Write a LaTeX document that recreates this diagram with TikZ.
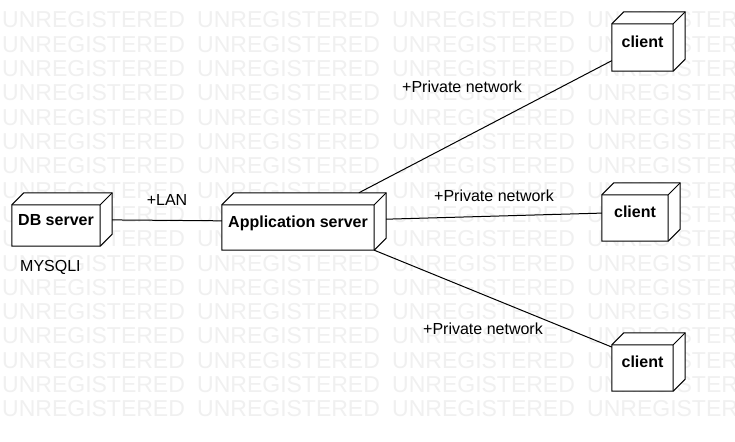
\documentclass[tikz,border=0pt]{standalone}
\usepackage{fontspec}
\setmainfont{Liberation Sans}
\usepackage{tikz}
\usetikzlibrary{positioning,calc}

\begin{document}
\begin{tikzpicture}[x=1pt, y=-1pt,
    boxline/.style={draw=black, line width=1pt},
    deploy/.style={rectangle, inner sep=0pt,
        font=\fontsize{16}{19}\selectfont\bfseries,
        text height=11.5pt, text depth=0pt,
        execute at end node={\hspace*{12pt}},
        append after command={\pgfextra{
            \draw[boxline, fill=white] (\tikzlastnode.south west)
                -- ([yshift=-12pt]\tikzlastnode.north west)
                -- ([xshift=12pt]\tikzlastnode.north west)
                -- (\tikzlastnode.north east)
                -- ([yshift=12pt]\tikzlastnode.south east)
                -- ([xshift=-12pt]\tikzlastnode.south east) -- cycle;
            \draw[boxline] ([yshift=-12pt]\tikzlastnode.north west)
                -- ([shift={(-12pt,-12pt)}]\tikzlastnode.north east)
                -- (\tikzlastnode.north east)
                ([shift={(-12pt,-12pt)}]\tikzlastnode.north east)
                -- ([xshift=-12pt]\tikzlastnode.south east);
        }}},
    link/.style={draw=black, line width=1pt},
    lbl/.style={font=\fontsize{16}{19}\selectfont, inner sep=0pt},
    watermark/.style={font=\fontsize{23}{26}\selectfont, text=black!6,
        inner sep=0pt, anchor=base west}]

    \fill[white] (0,0) rectangle (735,441);
    \useasboundingbox (0,0) rectangle (735,441);

    % watermark
    \begin{scope}
        \clip (0,0) rectangle (735,441);
        \foreach \r in {0,...,16}
            \foreach \c in {0,...,3}
                \node[watermark] (wm-\r-\c) at (2+195*\c, 28+24.3*\r) {UNREGISTERED};
    \end{scope}

    % Servers
    \node[deploy, minimum width=100, minimum height=53] (db) at (62,219.5) {DB server};
    \node[deploy, minimum width=164, minimum height=57] (app) at (304,221.5) {Application server};
    \node[lbl, anchor=base west] (mysql) at (20,271) {MYSQLI};

    % Clients
    \node[deploy, minimum width=73, minimum height=59] (client1) at (648.5,41.5) {client};
    \node[deploy, minimum width=78, minimum height=58] (client2) at (641,212) {client};
    \node[deploy, minimum width=73, minimum height=58] (client3) at (648.5,362) {client};

    % Links
    \draw[link] (db) -- (app) node[lbl, midway, above=14.5pt] (lan) {+LAN};
    \draw[link] (app) -- (client1);
    \draw[link] (app) -- (client2);
    \draw[link] (app) -- (client3);
    \node[lbl, anchor=base west] (net1) at (402,93) {+Private network};
    \node[lbl, anchor=base west] (net2) at (434,201) {+Private network};
    \node[lbl, anchor=base west] (net3) at (423,334) {+Private network};
\end{tikzpicture}
\end{document}
